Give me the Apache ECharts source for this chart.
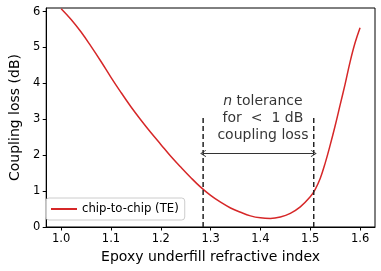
<!DOCTYPE html>
<html>
<head>
<meta charset="utf-8">
<script src="https://cdn.jsdelivr.net/npm/echarts@6/dist/echarts.min.js"></script>
<style>html,body{margin:0;padding:0;background:#fff}#c{width:381px;height:271px}</style>
</head>
<body>
<div id="c"></div>
<script>
// ---- data ----
const seriesName = 'chip-to-chip (TE)';
const nValues    = [1.00, 1.02, 1.04, 1.06, 1.08, 1.10, 1.12, 1.14, 1.16, 1.18, 1.20, 1.22, 1.24, 1.26, 1.28, 1.30, 1.32, 1.34, 1.36, 1.38, 1.40, 1.42, 1.44, 1.46, 1.48, 1.50, 1.51, 1.52, 1.53, 1.54, 1.55, 1.56, 1.57, 1.58, 1.59, 1.60];
const lossValues = [6.08, 5.78, 5.43, 5.03, 4.61, 4.17, 3.75, 3.35, 2.98, 2.63, 2.30, 1.97, 1.67, 1.38, 1.11, 0.88, 0.69, 0.53, 0.41, 0.31, 0.255, 0.24, 0.28, 0.38, 0.56, 0.84, 1.05, 1.35, 1.78, 2.28, 2.82, 3.40, 3.98, 4.60, 5.13, 5.55];
const xTicks = [1.0, 1.1, 1.2, 1.3, 1.4, 1.5, 1.6];
const yTicks = [0, 1, 2, 3, 4, 5, 6];
const tolLow = 1.285, tolHigh = 1.507, tolTop = 3.07, arrowY = 2.05;
const noteX = 1.405, noteY = 3.02;
const noteLines = ['{i|n} tolerance', 'for  <  1 dB', 'coupling loss'];

const FONT = 'DejaVu Sans';
const curve = nValues.map((n, i) => [n, lossValues[i]]);
const chevron = 'path://M0,0 L6,10 L5,10.8 L0,2.4 L-5,10.8 L-6,10 Z';

const chart = echarts.init(document.getElementById('c'), null, {renderer: 'canvas'});
chart.setOption({
  animation: false,
  textStyle: {fontFamily: FONT},
  grid: {left: 40, right: 6, top: 8, bottom: 44, show: true, borderColor: '#000', borderWidth: 1, backgroundColor: 'transparent'},
  legend: {
    data: [{name: seriesName, icon: 'rect'}],
    left: 46, top: 198, orient: 'vertical',
    itemWidth: 26, itemHeight: 2,
    padding: [5, 6, 5, 5],
    borderColor: '#cccccc', borderWidth: 1, borderRadius: 3,
    backgroundColor: 'rgba(255,255,255,0.8)',
    textStyle: {fontFamily: FONT, fontSize: 11.7, color: '#000'}
  },
  xAxis: {
    type: 'value', min: 0.97, max: 1.63,
    name: 'Epoxy underfill refractive index', nameLocation: 'middle', nameGap: 23,
    nameTextStyle: {fontFamily: FONT, fontSize: 14, color: '#000'},
    axisLine: {show: true, lineStyle: {color: '#000', width: 1}},
    axisTick: {show: true, length: 3.5, customValues: xTicks, lineStyle: {color: '#000'}},
    axisLabel: {customValues: xTicks, margin: 6, fontFamily: FONT, fontSize: 11.5, color: '#000', formatter: v => v.toFixed(1)},
    splitLine: {show: false}
  },
  yAxis: {
    type: 'value', min: 0, max: 6.1,
    name: 'Coupling loss (dB)', nameLocation: 'middle', nameGap: 20,
    nameTextStyle: {fontFamily: FONT, fontSize: 14, color: '#000'},
    axisLine: {show: true, lineStyle: {color: '#000', width: 1}},
    axisTick: {show: true, length: 3.5, customValues: yTicks, lineStyle: {color: '#000'}},
    axisLabel: {customValues: yTicks, margin: 6, fontFamily: FONT, fontSize: 11.5, color: '#000', formatter: v => String(Math.round(v))},
    splitLine: {show: false}
  },
  series: [
    {
      name: seriesName, type: 'line', data: curve, smooth: 0.4, showSymbol: false,
      lineStyle: {color: '#d62728', width: 1.5}, itemStyle: {color: '#d62728'}
    },
    {
      type: 'line', data: [[tolLow, 0], [tolLow, tolTop]], showSymbol: false, silent: true,
      lineStyle: {color: '#222', width: 1.5, type: [5, 3]}
    },
    {
      type: 'line', data: [[tolHigh, 0], [tolHigh, tolTop]], showSymbol: false, silent: true,
      lineStyle: {color: '#222', width: 1.5, type: [5, 3]}
    },
    {
      type: 'scatter', data: [[noteX, noteY]], symbolSize: 0, silent: true,
      label: {
        show: true, position: 'inside', formatter: noteLines.join('\n'),
        fontFamily: FONT, fontSize: 14, lineHeight: 17, color: '#000', align: 'center',
        rich: {i: {fontStyle: 'italic', fontFamily: FONT, fontSize: 14, lineHeight: 17, color: '#000'}}
      },
      markLine: {
        silent: true, symbol: [chevron, chevron], symbolSize: [7, 6],
        label: {show: false},
        lineStyle: {color: '#333', width: 1, type: 'solid'},
        data: [[{coord: [tolLow, arrowY]}, {coord: [tolHigh, arrowY]}]]
      }
    }
  ]
});
</script>
</body>
</html>
